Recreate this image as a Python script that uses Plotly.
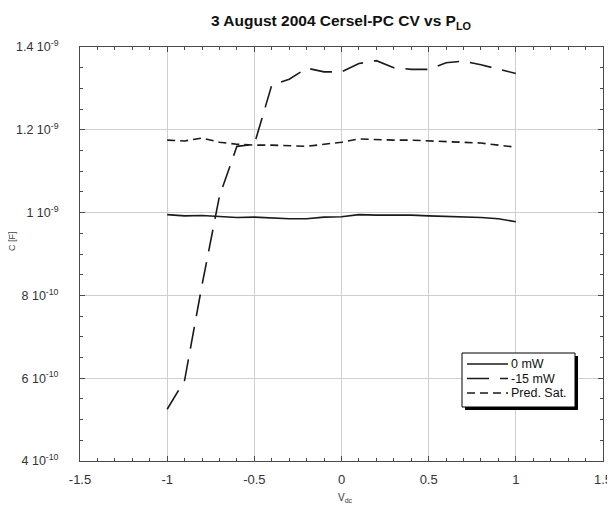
import plotly.graph_objects as go

v_dc = [-1.0, -0.9, -0.8, -0.7, -0.6, -0.5, -0.4, -0.3, -0.2, -0.1, 0.0,
        0.1, 0.2, 0.3, 0.4, 0.5, 0.6, 0.7, 0.8, 0.9, 1.0]
c_0mw = [0.995, 0.992, 0.993, 0.990, 0.988, 0.989, 0.987, 0.985, 0.985, 0.989, 0.990,
         0.995, 0.994, 0.994, 0.994, 0.992, 0.991, 0.990, 0.988, 0.985, 0.978]
c_m15mw = [0.525, 0.595, 0.825, 1.040, 1.160, 1.165, 1.308, 1.322, 1.349, 1.340, 1.340,
           1.360, 1.367, 1.350, 1.346, 1.346, 1.362, 1.366, 1.357, 1.346, 1.336]
c_pred = [1.175, 1.173, 1.180, 1.170, 1.165, 1.163, 1.163, 1.162, 1.160, 1.165, 1.170,
          1.178, 1.176, 1.175, 1.175, 1.173, 1.171, 1.170, 1.168, 1.163, 1.158]
scale = 1e-9
series_names = ["0 mW", "-15 mW", "Pred. Sat."]

x_ticks = [-1.5, -1, -0.5, 0, 0.5, 1, 1.5]
x_ticktext = ["-1.5", "-1", "-0.5", "0", "0.5", "1", "1.5"]
y_ticks = [4e-10, 6e-10, 8e-10, 1e-9, 1.2e-9, 1.4e-9]
y_ticktext = ["4 10<sup>-10</sup>", "6 10<sup>-10</sup>", "8 10<sup>-10</sup>",
              "1 10<sup>-9</sup>", "1.2 10<sup>-9</sup>", "1.4 10<sup>-9</sup>"]

FONT = "Liberation Sans, Arial, sans-serif"
line_color = "#1a1a1a"
dashes = ["solid", "22px,11px", "8px,5px"]

# page offset (body margin) of the rendered figure
OFF = 8
W, H = 615, 508
# plot area in screen px
L, R, T, B = 80, 603, 47, 461

fig = go.Figure()
for name, vals, dash in zip(series_names, [c_0mw, c_m15mw, c_pred], dashes):
    fig.add_trace(go.Scatter(x=v_dc, y=[v * scale for v in vals], mode="lines",
                             name=name, line=dict(color=line_color, width=1.6, dash=dash)))

axis_common = dict(
    showgrid=True, gridcolor="#cfcfcf", gridwidth=1,
    showline=True, linecolor="#4a4a4a", linewidth=1, mirror="ticks",
    ticks="inside", ticklen=5, tickcolor="#4a4a4a",
    zeroline=False, automargin=False,
)

fig.update_xaxes(range=[-1.5, 1.5], tickvals=x_ticks, ticktext=x_ticktext,
                 ticklabelstandoff=6, tickfont=dict(family=FONT, size=13, color="#333"),
                 minor=dict(dtick=0.1, ticks="inside", ticklen=3, tickcolor="#4a4a4a", showgrid=False),
                 **axis_common)
fig.update_yaxes(range=[4e-10, 1.4e-9], tickvals=y_ticks, ticktext=y_ticktext,
                 ticklabelstandoff=18, tickfont=dict(family=FONT, size=12.5, color="#333"),
                 minor=dict(dtick=0.5e-10, ticks="inside", ticklen=3, tickcolor="#4a4a4a", showgrid=False),
                 **axis_common)

def px(x): return (x - L) / (R - L)
def py(y): return (B - y) / (B - T)

# axis titles
fig.add_annotation(text="V<sub>dc</sub>", xref="paper", yref="paper",
                   x=px(345), y=py(498), showarrow=False, xanchor="center", yanchor="middle",
                   font=dict(family=FONT, size=10, color="#333"))
fig.add_annotation(text="C [F]", xref="paper", yref="paper", textangle=-90,
                   x=px(12), y=py(241), showarrow=False, xanchor="center", yanchor="middle",
                   font=dict(family=FONT, size=9, color="#444"))

# legend box with drop shadow
fig.add_shape(type="rect", xref="paper", yref="paper",
              x0=px(465), x1=px(578), y0=py(410), y1=py(356),
              fillcolor="black", line=dict(width=0), layer="above")
fig.add_shape(type="rect", xref="paper", yref="paper",
              x0=px(462), x1=px(575), y0=py(407), y1=py(353),
              fillcolor="white", line=dict(color="black", width=1), layer="above")
rows = [364, 378.5, 393]
for name, dash, ry in zip(series_names, dashes, rows):
    fig.add_shape(type="line", xref="paper", yref="paper",
                  x0=px(467), x1=px(508), y0=py(ry), y1=py(ry),
                  line=dict(color=line_color, width=1.6, dash=dash), layer="above")
    fig.add_annotation(text=name, xref="paper", yref="paper", x=px(509), y=py(ry),
                       showarrow=False, xanchor="left", yanchor="middle",
                       font=dict(family=FONT, size=12.5, color="#111"))

fig.update_layout(
    width=W, height=H,
    margin=dict(l=L - OFF, r=W - (R - OFF), t=T - OFF, b=H - (B - OFF)),
    paper_bgcolor="white", plot_bgcolor="white",
    title=dict(text="<b>3 August 2004 Cersel-PC CV vs P<sub>LO</sub></b>",
               x=(341 - OFF) / W, xanchor="center",
               y=1 - (21 - OFF) / H, yanchor="middle",
               font=dict(family=FONT, size=15.5, color="#111")),
    showlegend=False,
)

fig.write_html("out.html")
